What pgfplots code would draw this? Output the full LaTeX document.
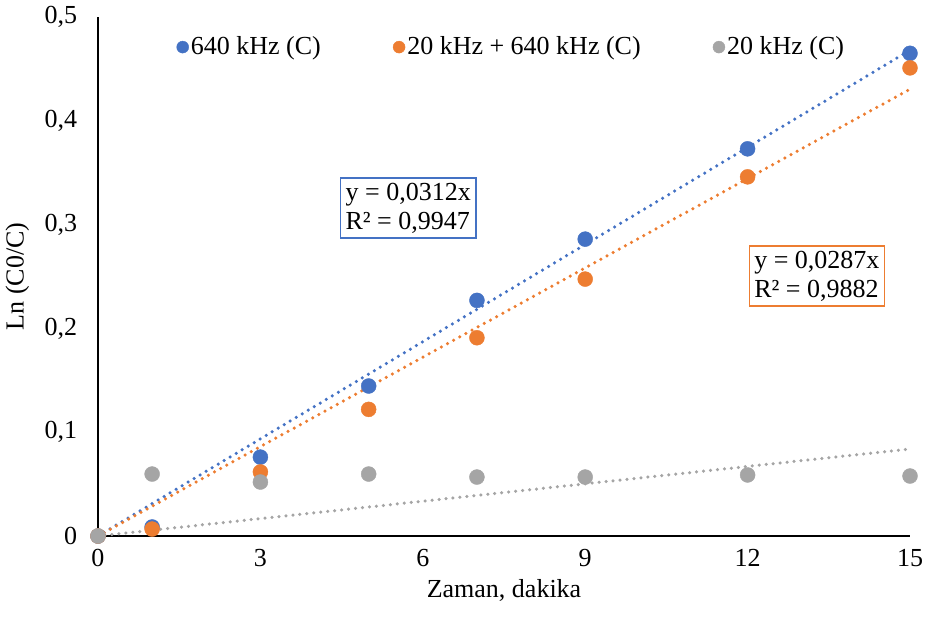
\documentclass[border=0pt]{standalone}
\usepackage{pgfplots}
\pgfplotsset{compat=1.18}
\usepackage{fontspec}
\setmainfont{Liberation Serif}
\definecolor{cblue}{HTML}{4472C4}
\definecolor{corange}{HTML}{ED7D31}
\definecolor{cgray}{HTML}{A5A5A5}
\begin{document}
\fontsize{26}{31}\selectfont
\begin{tikzpicture}
\begin{axis}[
  at={(0,0)}, anchor=south west,
  scale only axis, width=812pt, height=519pt,
  xmin=0, xmax=15, ymin=0, ymax=0.5,
  axis x line=bottom, axis y line=left,
  axis line style={-, line width=2.5pt, black},
  xtick={0,3,6,9,12,15}, ytick={0,0.1,0.2,0.3,0.4,0.5},
  major tick length=0pt,
  /pgf/number format/assume math mode=true,
  /pgf/number format/use comma,
  yticklabel style={/pgf/number format/fixed, /pgf/number format/precision=1, xshift=-12pt},
  xticklabel style={yshift=-4pt},
  tick label style={font=\fontsize{26}{31}\selectfont},
  label style={font=\fontsize{26}{31}\selectfont},
  xlabel={Zaman, dakika},
  ylabel={Ln (C0/C)},
  xlabel style={yshift=4pt},
  ylabel style={yshift=-2pt},
  clip=false,
  legend columns=3,
  legend style={at={(0.509,0.942)}, anchor=center, draw=none, fill=none,
    font=\fontsize{26}{31}\selectfont,
    /tikz/every even column/.append style={column sep=70pt}},
  legend cell align=left,
]
% trend lines
\addplot[forget plot, cblue, line width=3.5pt, line cap=round, dash pattern=on 0pt off 7pt] coordinates {(0,0) (15,0.468)};
\addplot[forget plot, corange, line width=3.5pt, line cap=round, dash pattern=on 0pt off 7pt] coordinates {(0,0) (15,0.4305)};
\addplot[forget plot, cgray, line width=3.5pt, line cap=round, dash pattern=on 0pt off 7pt] coordinates {(0,0) (15,0.0838)};
% data
\addplot[only marks, mark=*, mark size=7.5pt, cblue, mark options={draw=none, fill=cblue},
  legend image code/.code={\fill[cblue] (0pt,0pt) circle (6pt);}]
  coordinates {(0,0) (1,0.0087) (3,0.076) (5,0.1445) (7,0.227) (9,0.286) (12,0.373) (15,0.465)};
\addlegendentry{640 kHz (C)}
\addplot[only marks, mark=*, mark size=7.5pt, corange, mark options={draw=none, fill=corange},
  legend image code/.code={\fill[corange] (0pt,0pt) circle (6pt);}]
  coordinates {(0,0) (1,0.0067) (3,0.0617) (5,0.122) (7,0.191) (9,0.2475) (12,0.346) (15,0.451)};
\addlegendentry{20 kHz + 640 kHz (C)}
\addplot[only marks, mark=*, mark size=7.5pt, cgray, mark options={draw=none, fill=cgray},
  legend image code/.code={\fill[cgray] (0pt,0pt) circle (6pt);}]
  coordinates {(0,0) (1,0.0597) (3,0.052) (5,0.0597) (7,0.0568) (9,0.0568) (12,0.0588) (15,0.0578)};
\addlegendentry{20 kHz (C)}
\node[draw=cblue, line width=1.5pt, fill=white, align=left, inner sep=5pt, font=\fontsize{26}{29}\selectfont] at (axis cs:5.73,0.316) {y = 0,0312x\\R² = 0,9947};
\node[draw=corange, line width=1.5pt, fill=white, align=left, inner sep=5pt, font=\fontsize{26}{29}\selectfont] at (axis cs:13.28,0.2505) {y = 0,0287x\\R² = 0,9882};
\end{axis}
\pgfresetboundingbox
\path (-98pt,-83pt) rectangle (827pt,536pt);
\end{tikzpicture}
\end{document}
